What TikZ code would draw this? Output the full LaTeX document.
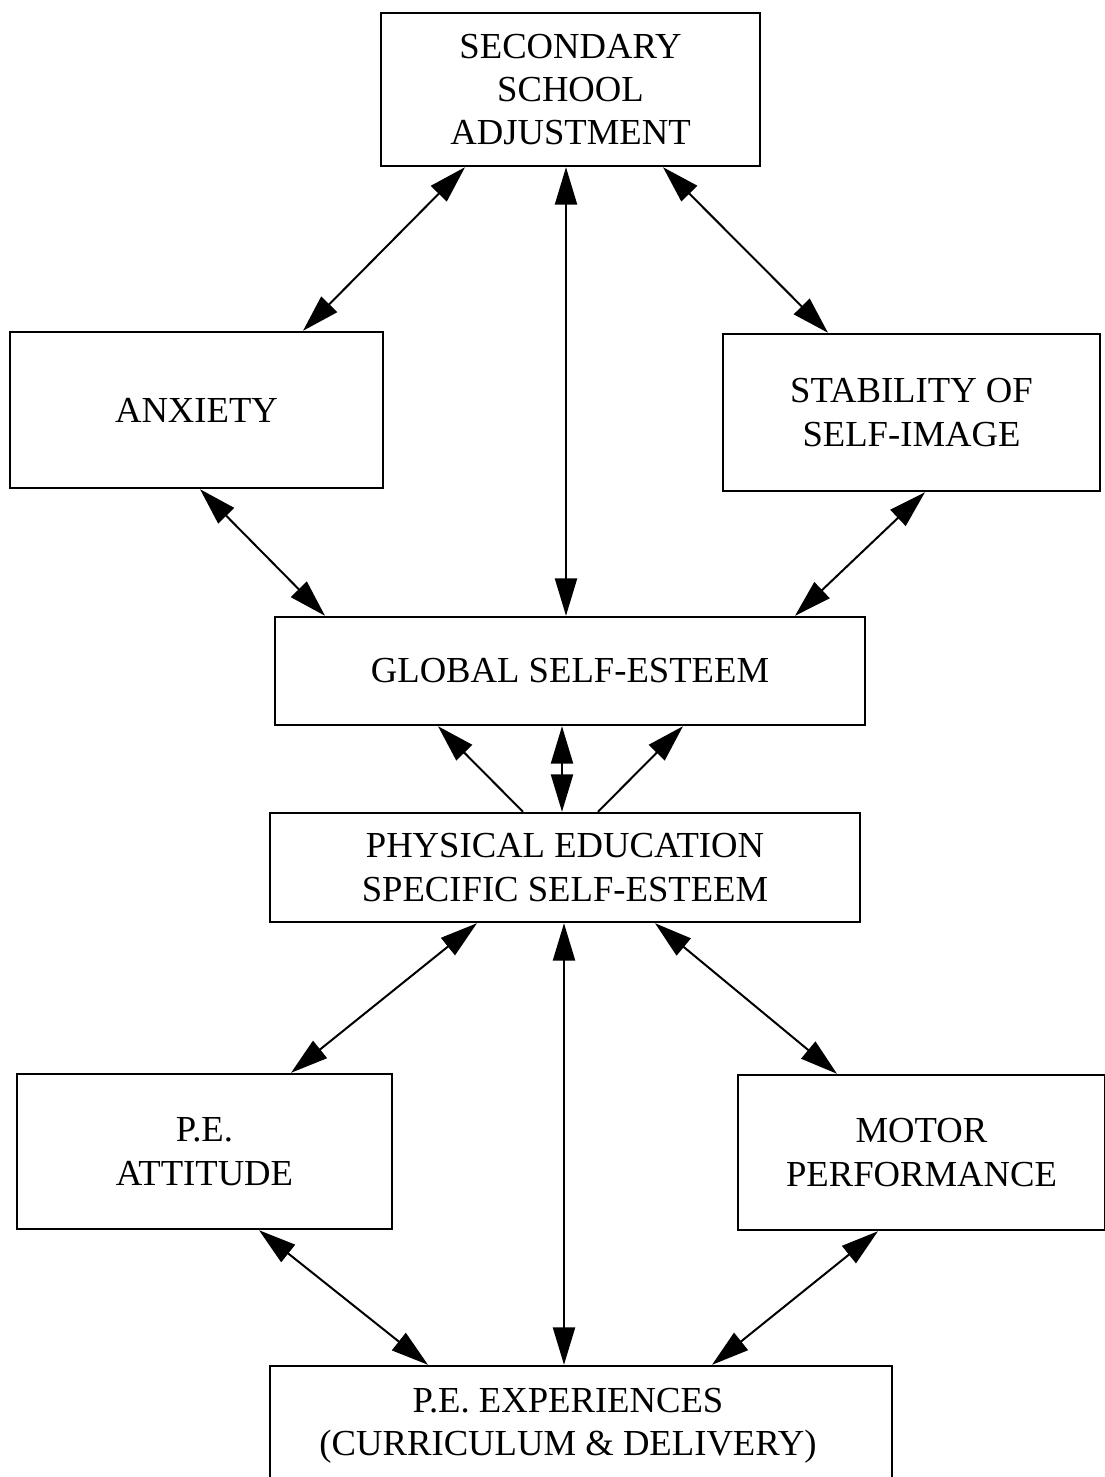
\documentclass[tikz,border=0pt]{standalone}
\usepackage{fontspec}
\setmainfont{Liberation Serif}
\usetikzlibrary{arrows.meta}
\begin{document}
\begin{tikzpicture}[x=0.75pt,y=-0.75pt,
  box/.style={draw,line width=1.8pt,rectangle,align=center,inner sep=0pt,
    font=\fontsize{27.5}{32.5}\selectfont},
  txt/.style={align=center,inner sep=0pt,font=\fontsize{27.5}{32.5}\selectfont},
  link/.style={line width=1.5pt,{Triangle[length=28pt,width=16.5pt]}-{Triangle[length=28pt,width=16.5pt]}},
  one/.style={line width=1.5pt,-{Triangle[length=28pt,width=16.5pt]}}]
\useasboundingbox (0,0) rectangle (1105,1477);
\node[box,minimum width=379*0.75pt,minimum height=153*0.75pt] (sec) at (570.5,89.5) {SECONDARY\\SCHOOL\\ADJUSTMENT};
\node[box,minimum width=373*0.75pt,minimum height=156*0.75pt] (anx) at (196.5,410) {ANXIETY};
\node[box,minimum width=377*0.75pt,minimum height=157*0.75pt] (stab) at (911.5,412.5) {STABILITY OF\\SELF-IMAGE};
\node[box,minimum width=590*0.75pt,minimum height=108*0.75pt] (glob) at (570,671) {GLOBAL SELF-ESTEEM};
\node[box,minimum width=590*0.75pt,minimum height=109*0.75pt] (phys) at (565,867.5) {PHYSICAL EDUCATION\\SPECIFIC SELF-ESTEEM};
\node[box,minimum width=375*0.75pt,minimum height=155*0.75pt] (att) at (204.5,1151.5) {P.E.\\ATTITUDE};
\node[box,minimum width=367*0.75pt,minimum height=155*0.75pt] (mot) at (921.5,1152.5) {MOTOR\\PERFORMANCE};
\node[box,minimum width=622*0.75pt,minimum height=160*0.75pt] (exp) at (581,1446) {};
\node[txt] (expt) at (568,1426) {P.E. EXPERIENCES\\(CURRICULUM \& DELIVERY)};

\draw[link] (465,0 |- sec.south) -- (303,0 |- anx.north);
\draw[link] (566,0 |- sec.south) -- (566,0 |- glob.north);
\draw[link] (663,0 |- sec.south) -- (828,0 |- stab.north);
\draw[link] (200,0 |- anx.south) -- (325,0 |- glob.north);
\draw[link] (925,0 |- stab.south) -- (795,0 |- glob.north);
\draw[one] (523,0 |- phys.north) -- (438,0 |- glob.south);
\draw[link] (562,0 |- phys.north) -- (562,0 |- glob.south);
\draw[one] (598,0 |- phys.north) -- (683,0 |- glob.south);
\draw[link] (477,0 |- phys.south) -- (291,0 |- att.north);
\draw[link] (564,0 |- phys.south) -- (564,0 |- exp.north);
\draw[link] (655,0 |- phys.south) -- (837,0 |- mot.north);
\draw[link] (259,0 |- att.south) -- (428,0 |- exp.north);
\draw[link] (878,0 |- mot.south) -- (712,0 |- exp.north);
\end{tikzpicture}
\end{document}
